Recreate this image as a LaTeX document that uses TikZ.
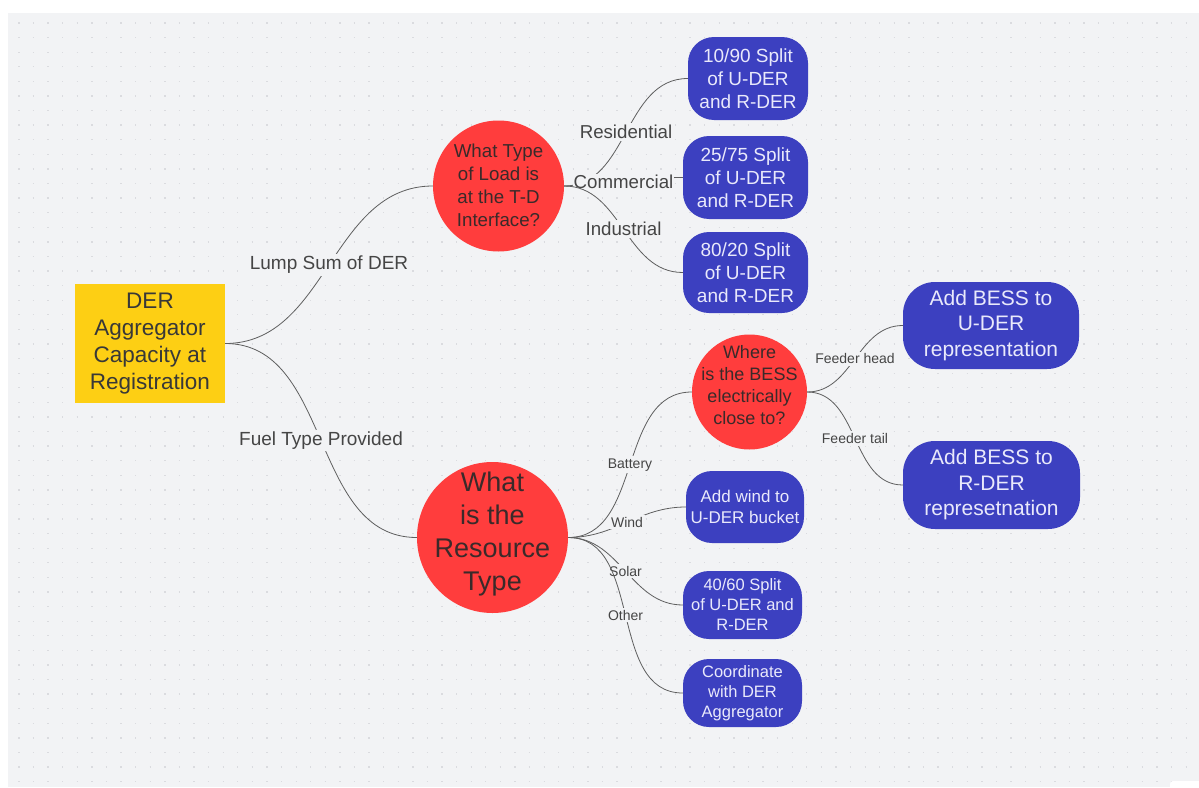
\documentclass[tikz,border=0pt]{standalone}
\usepackage{fontspec}
\setmainfont{Liberation Sans}

\definecolor{canvas}{HTML}{F2F3F5}
\definecolor{griddot}{HTML}{DADBDF}
\definecolor{deryellow}{HTML}{FDCF14}
\definecolor{qred}{HTML}{FF3D3D}
\definecolor{ansblue}{HTML}{3C40C0}
\definecolor{linkgray}{HTML}{5E5E5E}
\definecolor{darktext}{HTML}{383838}
\definecolor{qtext}{HTML}{3A2A2A}
\definecolor{anstext}{HTML}{E9E9FB}
\definecolor{lbltext}{HTML}{454545}

\tikzset{
    root/.style={fill=deryellow, text=darktext, inner sep=0pt, align=center,
        minimum width=150pt, minimum height=119pt, font=\fontsize{22.5}{27}\selectfont},
    question/.style={circle, fill=qred, inner sep=0pt},
    qlbl/.style={text=qtext, align=center, inner sep=0pt},
    answer/.style={fill=ansblue, text=anstext, inner sep=0pt, align=center, rounded corners=26pt},
    link/.style={draw=linkgray, line width=0.8pt},
    edgelbl/.style={fill=canvas, text=lbltext, inner sep=2pt},
    dotrow/.style={draw=griddot, line width=1.3pt, dash pattern=on 1.3pt off 13.29pt},
}

\begin{document}
\begin{tikzpicture}[x=1pt, y=-1pt]
    \useasboundingbox (0,0) rectangle (1199,787);
    \fill[white] (0,0) rectangle (1199,787);
    \fill[canvas] (8,13) rectangle (1199,787);
    \foreach \j in {0,...,52}
        \draw[dotrow] (18.3,23+\j*14.59) -- (1199,23+\j*14.59);
    \fill[white, rounded corners=3pt] (1170,781) rectangle (1205,795);

    % root and questions
    \node[root] (der) at (150,343.5) {DER\\Aggregator\\Capacity at\\Registration};
    \node[question, minimum size=131pt,
        label={[qlbl, yshift=1pt, font=\fontsize{18.7}{23}\selectfont]center:{What Type\\of Load is\\at the T-D\\Interface?}}]
        (load) at (498.5,186) {};
    \node[question, minimum size=151pt,
        label={[qlbl, yshift=3pt, font=\fontsize{27}{33}\selectfont]center:{What\\is the\\Resource\\Type}}]
        (resource) at (492.5,537.5) {};
    \node[question, minimum size=115pt,
        label={[qlbl, yshift=7pt, font=\fontsize{18}{22}\selectfont]center:{Where\\is the BESS\\electrically\\close to?}}]
        (bess) at (749.5,392) {};

    % answers
    \node[answer, minimum width=120pt, minimum height=83pt, font=\fontsize{19}{23}\selectfont] (split1) at (748,78.5)
        {10/90 Split\\of U-DER\\and R-DER};
    \node[answer, minimum width=125pt, minimum height=83pt, font=\fontsize{19}{23}\selectfont] (split2) at (745.5,177.5)
        {25/75 Split\\of U-DER\\and R-DER};
    \node[answer, minimum width=125pt, minimum height=81pt, font=\fontsize{19}{23}\selectfont] (split3) at (745.5,272.5)
        {80/20 Split\\of U-DER\\and R-DER};
    \node[answer, rounded corners=32pt, minimum width=176pt, minimum height=87pt, font=\fontsize{21}{25.5}\selectfont] (uder) at (991,325.5)
        {Add BESS to\\U-DER\\representation};
    \node[answer, rounded corners=32pt, minimum width=177pt, minimum height=88pt, font=\fontsize{21}{25.5}\selectfont] (rder) at (991.5,485)
        {Add BESS to\\R-DER\\represetnation};
    \node[answer, minimum width=118pt, minimum height=72pt, font=\fontsize{17}{21.5}\selectfont] (wind) at (745,507)
        {Add wind to\\U-DER bucket};
    \node[answer, minimum width=119pt, minimum height=68pt, font=\fontsize{16.5}{20}\selectfont] (solar) at (742.5,605)
        {40/60 Split\\of U-DER and\\R-DER};
    \node[answer, minimum width=119pt, minimum height=68pt, font=\fontsize{16.5}{20}\selectfont] (other) at (742.5,693)
        {Coordinate\\with DER\\Aggregator};

    % links
    \draw[link] (der.east) to[out=0,in=180] node[edgelbl, font=\fontsize{19}{23}\selectfont] (lump) {Lump Sum of DER} (load.west);
    \draw[link] (der.east) to[out=0,in=180] node[edgelbl, font=\fontsize{19}{23}\selectfont] (fuel) {Fuel Type Provided} (resource.west);

    \draw[link] (load.east) to[out=0,in=180] node[edgelbl, font=\fontsize{18.7}{23}\selectfont] (resid) {Residential} (split1.west);
    \draw[link] (load.east) to[out=0,in=180] node[edgelbl, inner sep=1pt, font=\fontsize{18.7}{23}\selectfont] (comm) {Commercial} (split2.west);
    \draw[link] (load.east) to[out=0,in=180] node[edgelbl, font=\fontsize{18.7}{23}\selectfont] (indus) {Industrial} (split3.west);

    \draw[link] (resource.east) to[out=0,in=180] node[edgelbl, font=\fontsize{14}{17}\selectfont] (batt) {Battery} (bess.west);
    \draw[link] (resource.east) to[out=0,in=180] node[edgelbl, font=\fontsize{14}{17}\selectfont] (windlbl) {Wind} (wind.west);
    \draw[link] (resource.east) to[out=0,in=180] node[edgelbl, font=\fontsize{14}{17}\selectfont] (solarlbl) {Solar} (solar.west);
    \draw[link] (resource.east) to[out=0,in=180] node[edgelbl, font=\fontsize{14}{17}\selectfont] (otherlbl) {Other} (other.west);

    \draw[link] (bess.east) to[out=0,in=180] node[edgelbl, font=\fontsize{14}{17}\selectfont] (head) {Feeder head} (uder.west);
    \draw[link] (bess.east) to[out=0,in=180] node[edgelbl, font=\fontsize{14}{17}\selectfont] (tail) {Feeder tail} (rder.west);
\end{tikzpicture}
\end{document}
